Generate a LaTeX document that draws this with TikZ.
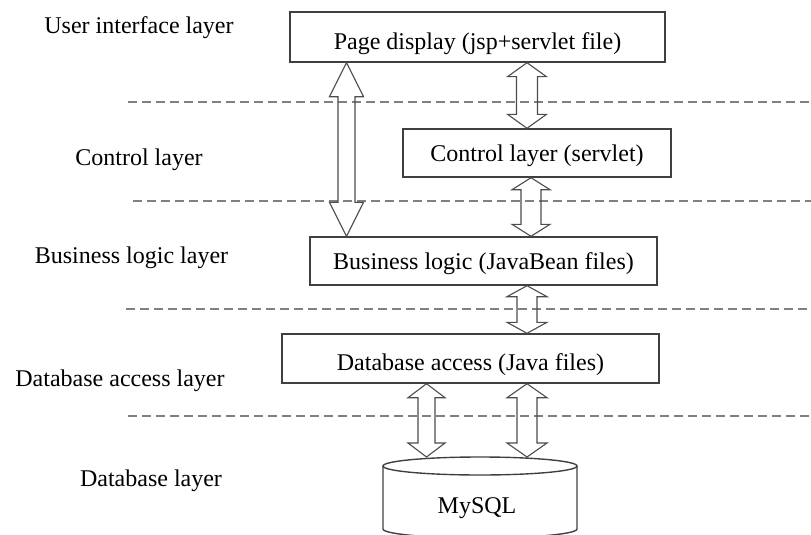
\documentclass[tikz,border=0pt]{standalone}
\usepackage{fontspec}
\setmainfont{Liberation Serif}
\usetikzlibrary{calc}
\newcommand{\dblarrow}[6]{%
  \draw[arrowline] let \p1=(#1 -| #3), \p2=(#2 -| #3) in
    (\x1,\y1) -- (\x1+#5,\y1-#6) -- (\x1+#4,\y1-#6) -- (\x1+#4,\y2+#6) --
    (\x1+#5,\y2+#6) -- (\x1,\y2) -- (\x1-#5,\y2+#6) -- (\x1-#4,\y2+#6) --
    (\x1-#4,\y1-#6) -- (\x1-#5,\y1-#6) -- cycle;}
\begin{document}
\begin{tikzpicture}[x=1pt,y=-1pt,
  lbl/.style={font=\fontsize{24}{28}\selectfont, anchor=base, inner sep=0pt},
  layerbox/.style={draw=black!75, line width=1.4pt, font=\fontsize{24}{28}\selectfont,
    inner sep=0pt, text height=16pt, text depth=0pt},
  lowtext/.style={text height=24pt},
  sep/.style={draw=black!50, line width=2pt, dash pattern=on 9pt off 5pt},
  arrowline/.style={draw=black!70, line width=1.1pt, line join=miter}]
\useasboundingbox (0,0) rectangle (811,535);
% separators
\draw[sep] (128,102) -- (811,102);
\draw[sep] (133,201) -- (811,201);
\draw[sep] (126,309) -- (811,309);
\draw[sep] (128,416) -- (811,416);
% layer labels
\node[lbl] (l1) at (139,34) {User interface layer};
\node[lbl] (l2) at (139,165) {Control layer};
\node[lbl] (l3) at (131.5,263) {Business logic layer};
\node[lbl] (l4) at (120,386) {Database access layer};
\node[lbl] (l5) at (151,486) {Database layer};
% boxes
\node[layerbox, lowtext, minimum width=375, minimum height=50] (page) at (477.5,37) {Page display (jsp+servlet file)};
\node[layerbox, minimum width=268, minimum height=48] (ctrl) at (537,153) {Control layer (servlet)};
\node[layerbox, minimum width=347, minimum height=48] (biz) at (483.5,261) {Business logic (JavaBean files)};
\node[layerbox, lowtext, minimum width=377, minimum height=49] (dba) at (470.5,358.5) {Database access (Java files)};
% database cylinder
\draw[draw=black!75, line width=1.4pt] (480,466) ellipse [x radius=97pt, y radius=9pt];
\draw[draw=black!75, line width=1.4pt] (383,466) -- (383,529)
  arc[start angle=180, end angle=360, x radius=97pt, y radius=9pt] -- (577,466);
\node[font=\fontsize{24}{28}\selectfont, inner sep=0pt] (db) at (477,508) {MySQL};
\coordinate (dbtop) at (480,457);
% arrow columns
\coordinate (k1) at (346.5,0);
\coordinate (k2) at (527,0);
\coordinate (k3) at (531,0);
\coordinate (k4) at (527,0);
\coordinate (k5) at (426.5,0);
\coordinate (k6) at (527,0);
% arrows
\dblarrow{page.south}{biz.north}{k1}{8.5pt}{17pt}{34pt}
\dblarrow{page.south}{ctrl.north}{k2}{10.5pt}{19.5pt}{14pt}
\dblarrow{ctrl.south}{biz.north}{k3}{10pt}{19pt}{12pt}
\dblarrow{biz.south}{dba.north}{k4}{10pt}{20pt}{11pt}
\dblarrow{dba.south}{dbtop}{k5}{8.5pt}{18.5pt}{14pt}
\dblarrow{dba.south}{dbtop}{k6}{10pt}{20pt}{14pt}
\end{tikzpicture}
\end{document}
